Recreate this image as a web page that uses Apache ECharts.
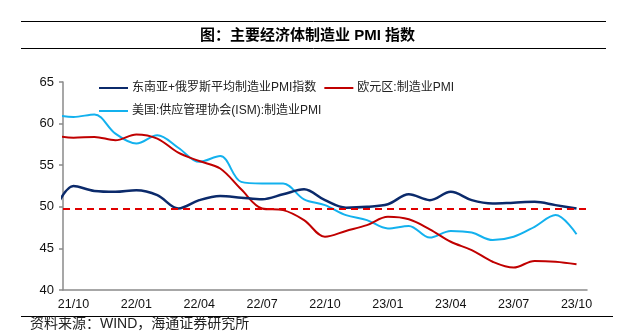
<!DOCTYPE html>
<html><head><meta charset="utf-8">
<script src="https://cdn.jsdelivr.net/npm/echarts@6/dist/echarts.min.js"></script>
<style>html,body{margin:0;padding:0;background:#fff}#c{width:622px;height:332px}</style>
</head><body><div id="c"></div>
<script>
// monthly data; the first month (21/09) lies left of the axis start and is clipped like the original
const months = ['21/09','21/10','21/11','21/12','22/01','22/02','22/03','22/04','22/05','22/06','22/07','22/08','22/09','22/10','22/11','22/12','23/01','23/02','23/03','23/04','23/05','23/06','23/07','23/08','23/09','23/10'];
const axisMonths = months.slice(1);
const seaRussia = [49.0,52.5,51.9,51.8,52.0,51.4,49.8,50.8,51.3,51.1,50.9,51.5,52.1,50.8,49.9,50.0,50.3,51.5,50.8,51.8,50.8,50.4,50.5,50.6,50.2,49.8];
const euro      = [58.6,58.3,58.4,58.0,58.7,58.2,56.5,55.5,54.6,52.1,49.8,49.6,48.4,46.4,47.1,47.8,48.8,48.5,47.3,45.8,44.8,43.4,42.7,43.5,43.4,43.1];
const usISM     = [61.1,60.8,61.1,58.8,57.6,58.6,57.1,55.4,56.1,53.0,52.8,52.8,50.9,50.2,49.0,48.4,47.4,47.7,46.3,47.1,46.9,46.0,46.4,47.6,49.0,46.7];
const boomLine = 49.8;
const yTicks = [40, 45, 50, 55, 60, 65];
const names = ['东南亚+俄罗斯平均制造业PMI指数', '欧元区:制造业PMI', '美国:供应管理协会(ISM):制造业PMI'];
const colors = ['#0b2a6b', '#c00000', '#13b1ee'];

const toPts = vals => vals.map((v, i) => [i - 0.5, v]);
const CJK = '"Liberation Sans", Arial, "Noto Sans CJK SC", sans-serif';

const chart = echarts.init(document.getElementById('c'), null, {renderer: 'canvas'});
chart.setOption({
  animation: false,
  backgroundColor: '#fff',
  textStyle: {fontFamily: CJK},
  grid: {left: 63, right: 35, top: 82, bottom: 42, containLabel: false},
  title: [
    {text: '图：主要经济体制造业 PMI 指数', left: 195, top: 23,
     textStyle: {fontSize: 15, fontWeight: 'bold', color: '#000', fontFamily: CJK}},
    {text: '资料来源：WIND，海通证券研究所', left: 25, top: 312,
     textStyle: {fontSize: 14, fontWeight: 'normal', color: '#222', fontFamily: CJK}}
  ],
  graphic: [
    {type: 'line', shape: {x1: 21, y1: 21.5, x2: 606, y2: 21.5}, style: {stroke: '#000', lineWidth: 1}},
    {type: 'line', shape: {x1: 21, y1: 48.5, x2: 606, y2: 48.5}, style: {stroke: '#000', lineWidth: 1}},
    {type: 'line', shape: {x1: 21, y1: 316.5, x2: 613, y2: 316.5}, style: {stroke: '#000', lineWidth: 1}}
  ],
  legend: [
    {data: [names[0], names[1]], left: 94, top: 77, itemWidth: 29, itemHeight: 2, icon: 'rect',
     itemGap: 8, textStyle: {fontSize: 12, color: '#222', padding: [0, 0, 0, -1]}},
    {data: [names[2]], left: 94, top: 100, itemWidth: 29, itemHeight: 2, icon: 'rect',
     textStyle: {fontSize: 12, color: '#222', padding: [0, 0, 0, -1]}}
  ],
  xAxis: [
    {type: 'category', data: axisMonths, boundaryGap: true,
     axisLine: {lineStyle: {color: '#8a8a8a', width: 1.5}},
     axisTick: {interval: 2, length: 4, lineStyle: {color: '#8a8a8a', width: 1.5}},
     axisLabel: {interval: 2, fontSize: 12.5, color: '#111', margin: 8},
     splitLine: {show: false}},
    {type: 'value', min: 0, max: 25, show: false, position: 'bottom'}
  ],
  yAxis: {type: 'value', min: yTicks[0], max: yTicks[yTicks.length - 1], interval: 5,
    axisLine: {show: true, lineStyle: {color: '#8a8a8a', width: 1.5}},
    axisTick: {show: true, length: 4, lineStyle: {color: '#8a8a8a', width: 1.5}},
    axisLabel: {fontSize: 13, color: '#111', margin: 9},
    splitLine: {show: false}},
  series: [
    {name: names[2], type: 'line', xAxisIndex: 1, data: toPts(usISM), smooth: 0.35, symbol: 'none', clip: true,
     lineStyle: {color: colors[2], width: 2}, itemStyle: {color: colors[2]}, z: 2},
    {name: names[1], type: 'line', xAxisIndex: 1, data: toPts(euro), smooth: 0.35, symbol: 'none', clip: true,
     lineStyle: {color: colors[1], width: 2}, itemStyle: {color: colors[1]}, z: 3},
    {name: names[0], type: 'line', xAxisIndex: 1, data: toPts(seaRussia), smooth: 0.35, symbol: 'none', clip: true,
     lineStyle: {color: colors[0], width: 2.5}, itemStyle: {color: colors[0]}, z: 4,
     markLine: {silent: true, symbol: 'none', label: {show: false},
       lineStyle: {color: '#e00000', type: [7, 5], width: 2},
       data: [{yAxis: boomLine}]}}
  ]
});
</script>
</body></html>
